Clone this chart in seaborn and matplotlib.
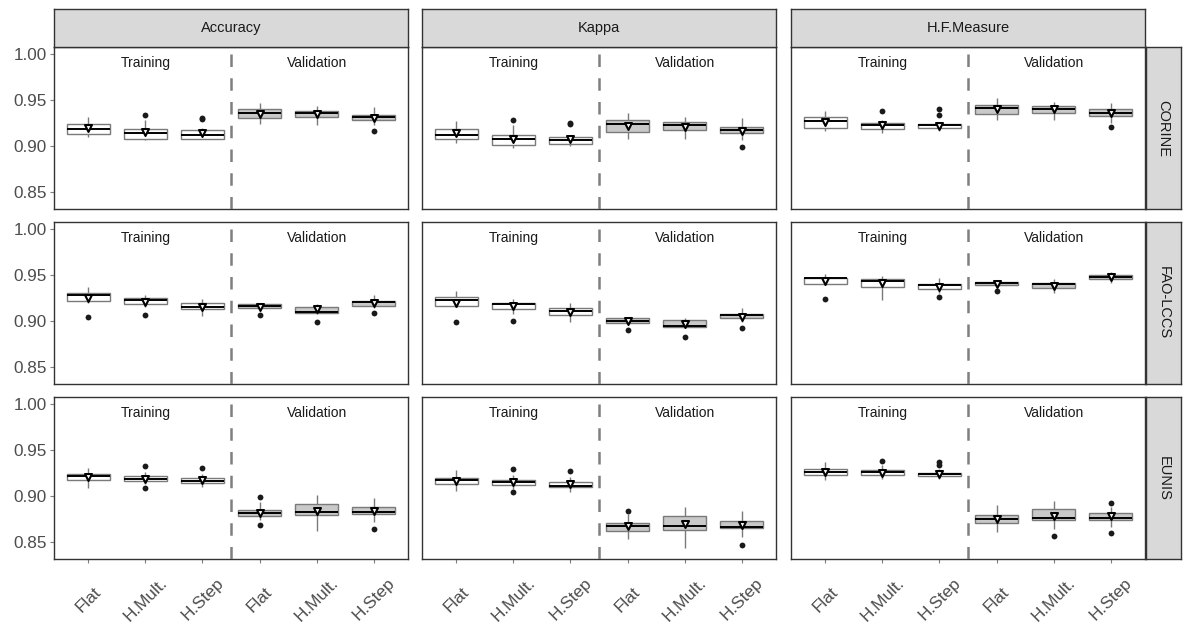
import numpy as np
import pandas as pd
import matplotlib
matplotlib.use("Agg")
import matplotlib.pyplot as plt
import seaborn as sns

# ---------------- data ----------------
metrics = ["Accuracy", "Kappa", "H.F.Measure"]
datasets = ["CORINE", "FAO-LCCS", "EUNIS"]
phases = ["Training", "Validation"]
methods = ["Flat", "H.Mult.", "H.Step"]

# one row per panel (row-major: dataset x metric), 6 boxes per row
lower_whisker = [
    [0.910, 0.906, 0.907, 0.924, 0.923, 0.923],
    [0.903, 0.898, 0.8995, 0.908, 0.907, 0.906],
    [0.9164, 0.914, 0.9157, 0.928, 0.928, 0.9245],
    [0.920, 0.9153, 0.9055, 0.912, 0.908, 0.914],
    [0.915, 0.908, 0.899, 0.897, 0.8927, 0.899],
    [0.939, 0.9226, 0.930, 0.937, 0.930, 0.941],
    [0.9088, 0.913, 0.9095, 0.8737, 0.862, 0.871],
    [0.9051, 0.9077, 0.9047, 0.853, 0.843, 0.855],
    [0.9168, 0.9179, 0.9179, 0.8609, 0.8639, 0.8657],
]
q1 = [
    [0.913, 0.908, 0.908, 0.930, 0.931, 0.928],
    [0.907, 0.901, 0.9015, 0.915, 0.917, 0.9135],
    [0.920, 0.918, 0.920, 0.935, 0.936, 0.933],
    [0.9215, 0.918, 0.9124, 0.9135, 0.909, 0.9164],
    [0.9164, 0.9128, 0.9069, 0.898, 0.8934, 0.9026],
    [0.9398, 0.9372, 0.9347, 0.9391, 0.9361, 0.9456],
    [0.9175, 0.9161, 0.9139, 0.8781, 0.8792, 0.8803],
    [0.9128, 0.912, 0.9095, 0.862, 0.8631, 0.865],
    [0.923, 0.923, 0.9212, 0.8701, 0.8737, 0.8737],
]
median = [
    [0.918, 0.9135, 0.912, 0.936, 0.936, 0.931],
    [0.912, 0.908, 0.906, 0.924, 0.923, 0.917],
    [0.9274, 0.9226, 0.9223, 0.9416, 0.940, 0.936],
    [0.928, 0.9226, 0.9153, 0.9164, 0.910, 0.9208],
    [0.9226, 0.9186, 0.911, 0.900, 0.8942, 0.9062],
    [0.9464, 0.9434, 0.9391, 0.9412, 0.940, 0.9482],
    [0.9212, 0.9186, 0.9157, 0.881, 0.8821, 0.8821],
    [0.9175, 0.915, 0.9113, 0.8672, 0.8672, 0.8657],
    [0.9259, 0.9259, 0.9234, 0.8748, 0.8755, 0.8755],
]
q3 = [
    [0.924, 0.918, 0.917, 0.940, 0.938, 0.934],
    [0.918, 0.912, 0.910, 0.928, 0.926, 0.921],
    [0.931, 0.9255, 0.9237, 0.945, 0.943, 0.940],
    [0.9307, 0.9245, 0.919, 0.918, 0.9153, 0.922],
    [0.9263, 0.920, 0.9135, 0.9026, 0.9004, 0.908],
    [0.9471, 0.9453, 0.9405, 0.9423, 0.9412, 0.950],
    [0.9241, 0.9212, 0.919, 0.8847, 0.8912, 0.8883],
    [0.9197, 0.9172, 0.9146, 0.8704, 0.8777, 0.873],
    [0.9296, 0.9285, 0.9255, 0.8792, 0.8858, 0.881],
]
upper_whisker = [
    [0.932, 0.928, 0.919, 0.947, 0.943, 0.942],
    [0.927, 0.9226, 0.912, 0.936, 0.931, 0.930],
    [0.938, 0.928, 0.926, 0.952, 0.948, 0.947],
    [0.937, 0.928, 0.9237, 0.919, 0.918, 0.928],
    [0.9328, 0.9237, 0.919, 0.9044, 0.9033, 0.9135],
    [0.9507, 0.9489, 0.9471, 0.9445, 0.9456, 0.9536],
    [0.9307, 0.926, 0.9234, 0.8931, 0.9004, 0.8978],
    [0.9277, 0.9223, 0.9204, 0.880, 0.8876, 0.8832],
    [0.9369, 0.9332, 0.9296, 0.8905, 0.8949, 0.8876],
]
mean = [
    [0.920, 0.915, 0.914, 0.935, 0.935, 0.930],
    [0.9135, 0.908, 0.907, 0.9215, 0.921, 0.9165],
    [0.926, 0.923, 0.922, 0.9405, 0.940, 0.9355],
    [0.925, 0.921, 0.915, 0.915, 0.9124, 0.919],
    [0.920, 0.916, 0.910, 0.8996, 0.8971, 0.9044],
    [0.9434, 0.9409, 0.9372, 0.9398, 0.9383, 0.9482],
    [0.9204, 0.9186, 0.9168, 0.8818, 0.8839, 0.8832],
    [0.9161, 0.9146, 0.9124, 0.8668, 0.8693, 0.8679],
    [0.9259, 0.9252, 0.9234, 0.8748, 0.8781, 0.8777],
]
# outliers: (panel index, box index, value)
outliers = [
    (0, 1, 0.9336), (0, 2, 0.9307), (0, 2, 0.9288), (0, 5, 0.9157),
    (1, 1, 0.928), (1, 2, 0.9255), (1, 2, 0.9234), (1, 5, 0.899),
    (2, 1, 0.938), (2, 2, 0.940), (2, 2, 0.934), (2, 5, 0.921),
    (3, 0, 0.9044), (3, 1, 0.9062), (3, 3, 0.9069), (3, 4, 0.8989), (3, 5, 0.9091),
    (4, 0, 0.8989), (4, 1, 0.900), (4, 3, 0.8905), (4, 4, 0.8825), (4, 5, 0.8927),
    (5, 0, 0.9234), (5, 2, 0.9263), (5, 3, 0.9328),
    (6, 1, 0.9321), (6, 1, 0.9088), (6, 2, 0.9307), (6, 3, 0.8985), (6, 3, 0.8679), (6, 5, 0.8642),
    (7, 1, 0.9288), (7, 1, 0.904), (7, 2, 0.9274), (7, 3, 0.8839), (7, 5, 0.846),
    (8, 1, 0.938), (8, 2, 0.9369), (8, 2, 0.9336), (8, 4, 0.8566), (8, 5, 0.892), (8, 5, 0.8591),
]
y_ticks = [0.85, 0.90, 0.95, 1.00]
y_tick_labels = ["0.85", "0.90", "0.95", "1.00"]

# ---------------- style ----------------
sns.set_theme(style="white")
plt.rcParams['font.family'] = ['Liberation Sans', 'DejaVu Sans']

W, H = 1184, 626
fig = plt.figure(figsize=(W / 100, H / 100), dpi=100)


def px_axes(x, y, w, h):
    return fig.add_axes([x / W, 1 - (y + h) / H, w / W, h / H])


col_x = [54, 422, 791]
row_y = [47, 222, 397]
panel_w, panel_h = 354, 162
strip_top, strip_h = 9, 38
rstrip_x, rstrip_w = 1146, 35

border = "#333333"
tick_gray = "#4d4d4d"
order = [f"{p}|{m}" for p in phases for m in methods]
palette = {"Training": "white", "Validation": "#c9c9c9"}

for i in range(9):
    r, c = divmod(i, 3)
    ax = px_axes(col_x[c], row_y[r], panel_w, panel_h)
    recs = []
    for j, key in enumerate(order):
        ph = phases[j // 3]
        for v in (lower_whisker[i][j], q1[i][j], median[i][j], q3[i][j], upper_whisker[i][j]):
            recs.append((key, ph, v))
    df = pd.DataFrame(recs, columns=["box", "phase", "value"])
    sns.boxplot(data=df, x="box", y="value", hue="phase", order=order,
                palette=palette, dodge=False, whis=(0, 100), showfliers=False,
                width=0.75, saturation=1, linecolor="#7a7a7a", linewidth=1.0,
                medianprops=dict(color="black", linewidth=1.4),
                capprops=dict(linewidth=0),
                legend=False, ax=ax)
    # means
    sns.stripplot(x=order, y=mean[i], order=order, jitter=False, marker="v",
                  color="white", edgecolor="black", linewidth=1.5, size=5,
                  zorder=6, ax=ax)
    # outliers
    ox = [order[b] for (p, b, v) in outliers if p == i]
    oy = [v for (p, b, v) in outliers if p == i]
    if ox:
        sns.stripplot(x=ox, y=oy, order=order, jitter=False, color="#1a1a1a",
                      size=4.2, linewidth=0, zorder=6, ax=ax)

    ax.axvline(2.5, color="#7f7f7f", lw=1.8, ls=(0, (5, 4.5)), zorder=3)
    ax.text(1, 0.99, "Training", ha="center", va="center", fontsize=10, color="#1a1a1a")
    ax.text(4, 0.99, "Validation", ha="center", va="center", fontsize=10, color="#1a1a1a")

    ax.set_xlim(-0.6, 5.6)
    ax.set_ylim(0.831, 1.008)
    ax.set_xlabel("")
    ax.set_ylabel("")
    for s in ax.spines.values():
        s.set_visible(True)
        s.set_color(border)
        s.set_linewidth(1.0)
    ax.set_yticks(y_ticks)
    ax.set_xticks(range(6))
    if c == 0:
        ax.set_yticklabels(y_tick_labels, fontsize=12.3, color=tick_gray)
        ax.tick_params(axis="y", left=True, length=3, width=0.8, color="#7f7f7f", pad=2)
    else:
        ax.set_yticklabels([])
        ax.tick_params(axis="y", left=False)
    if r == 2:
        ax.set_xticklabels(methods * 2, rotation=45, ha="center", va="center",
                           rotation_mode="anchor", fontsize=12.3, color=tick_gray)
        ax.tick_params(axis="x", bottom=True, length=3, width=0.8, color="#7f7f7f", pad=26)
    else:
        ax.set_xticklabels([])
        ax.tick_params(axis="x", bottom=False)

# top strips
for c, name in enumerate(metrics):
    sax = px_axes(col_x[c], strip_top, panel_w, strip_h)
    sax.set_facecolor("#d9d9d9")
    sax.set_xticks([]); sax.set_yticks([])
    for s in sax.spines.values():
        s.set_visible(True); s.set_color(border); s.set_linewidth(1.0)
    sax.text(0.5, 0.5, name, ha="center", va="center", fontsize=10.5,
             color="#1a1a1a", transform=sax.transAxes)

# right strips
for r, name in enumerate(datasets):
    sax = px_axes(rstrip_x, row_y[r], rstrip_w, panel_h)
    sax.set_facecolor("#d9d9d9")
    sax.set_xticks([]); sax.set_yticks([])
    for s in sax.spines.values():
        s.set_visible(True); s.set_color(border); s.set_linewidth(1.0)
    sax.text(0.5, 0.5, name, ha="center", va="center", fontsize=10.5, rotation=-90,
             color="#1a1a1a", transform=sax.transAxes)

fig.savefig("out.png", dpi=100, facecolor="white")
